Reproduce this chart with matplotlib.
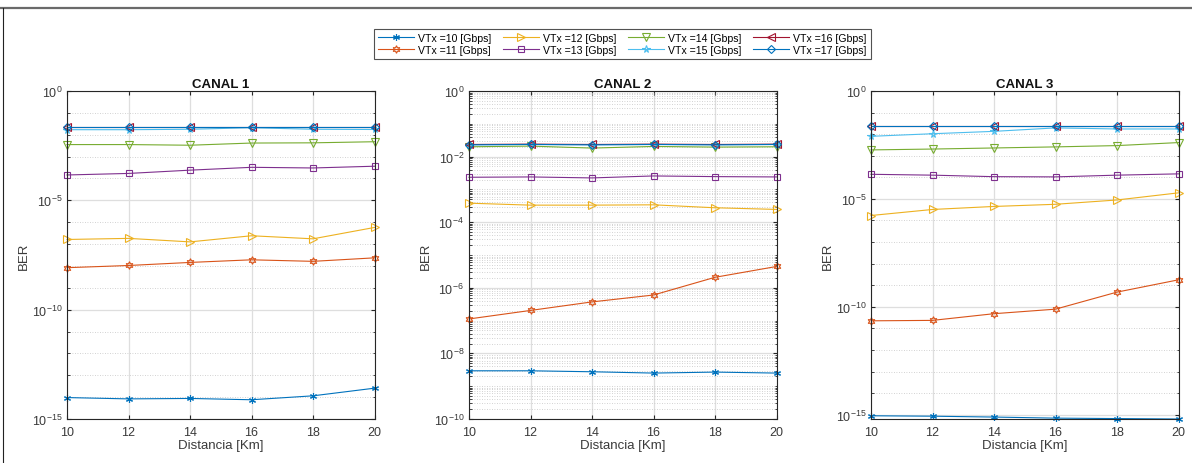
import numpy as np
import matplotlib.pyplot as plt
from matplotlib.ticker import NullFormatter, FixedLocator
from matplotlib.lines import Line2D

plt.rcParams['font.family'] = ['Liberation Sans', 'DejaVu Sans']
plt.rcParams['mathtext.fontset'] = 'custom'
plt.rcParams['mathtext.rm'] = 'Liberation Sans'

# --- data (log10 of BER) ---
distancia = [10, 12, 14, 16, 18, 20]
vtx_labels = ['VTx =%d [Gbps]' % v for v in range(10, 18)]

canal1 = {
    10: [-14.02, -14.08, -14.06, -14.12, -13.94, -13.59],
    11: [-8.08, -7.98, -7.84, -7.72, -7.79, -7.63],
    12: [-6.79, -6.74, -6.90, -6.62, -6.76, -6.24],
    13: [-3.84, -3.77, -3.62, -3.49, -3.52, -3.44],
    14: [-2.45, -2.45, -2.48, -2.38, -2.37, -2.32],
    15: [-1.77, -1.77, -1.75, -1.68, -1.75, -1.76],
    16: [-1.63, -1.63, -1.63, -1.63, -1.63, -1.63],
    17: [-1.63, -1.63, -1.63, -1.63, -1.63, -1.63],
}
canal2 = {
    10: [-8.53, -8.53, -8.56, -8.60, -8.57, -8.60],
    11: [-6.95, -6.69, -6.43, -6.22, -5.68, -5.35],
    12: [-3.42, -3.48, -3.48, -3.47, -3.56, -3.61],
    13: [-2.63, -2.62, -2.65, -2.59, -2.61, -2.62],
    14: [-1.70, -1.68, -1.74, -1.69, -1.71, -1.70],
    15: [-1.64, -1.63, -1.64, -1.63, -1.64, -1.63],
    16: [-1.63, -1.62, -1.63, -1.62, -1.63, -1.62],
    17: [-1.64, -1.63, -1.64, -1.63, -1.64, -1.63],
}
canal3 = {
    10: [-15.05, -15.07, -15.11, -15.16, -15.18, -15.20],
    11: [-10.65, -10.63, -10.32, -10.11, -9.32, -8.75],
    12: [-5.77, -5.49, -5.35, -5.25, -5.05, -4.72],
    13: [-3.86, -3.90, -3.97, -3.98, -3.90, -3.84],
    14: [-2.73, -2.69, -2.64, -2.59, -2.53, -2.39],
    15: [-2.10, -1.98, -1.87, -1.71, -1.76, -1.76],
    16: [-1.63, -1.63, -1.63, -1.63, -1.63, -1.63],
    17: [-1.63, -1.63, -1.63, -1.63, -1.63, -1.63],
}
canales = [canal1, canal2, canal3]
titulos = ['CANAL 1', 'CANAL 2', 'CANAL 3']
ylims = [(-15, 0), (-10, 0), (-15.2, 0)]
major_step = [5, 2, 5]

colors = {10: '#0072BD', 11: '#D95319', 12: '#EDB120', 13: '#7E2F8E',
          14: '#77AC30', 15: '#4DBEEE', 16: '#A2142F', 17: '#0072BD'}
markers = {10: (6, 2, 0), 11: (6, 1, 0), 12: '>', 13: 's',
           14: 'v', 15: '*', 16: '<', 17: 'D'}
msizes = {10: 5, 11: 5.5, 12: 5.5, 13: 4.2, 14: 5.5, 15: 5.5, 16: 5.5, 17: 4.2}

fig = plt.figure(figsize=(11.92, 4.64), dpi=100)
lefts = [67 / 1192, 469 / 1192, 871 / 1192]
bottom = 1 - 420 / 464
height = (420 - 92) / 464
width = 307.5 / 1192

# frame lines like the original screenshot
fig.add_artist(Line2D([0, 1], [1 - 8.5 / 464] * 2, color='#6a6a6a', lw=1.6))
fig.add_artist(Line2D([3 / 1192] * 2, [0, 1 - 9 / 464], color='#222222', lw=0.8))

handles = []
for i, canal in enumerate(canales):
    ax = fig.add_axes([lefts[i], bottom, width, height])
    for v in range(10, 18):
        h, = ax.plot(distancia, 10.0 ** np.array(canal[v]), color=colors[v],
                     marker=markers[v], markersize=msizes[v], markerfacecolor='none',
                     markeredgewidth=0.8, linewidth=0.8, label=vtx_labels[v - 10],
                     clip_on=False)
        if i == 0:
            handles.append(h)
    ax.set_yscale('log')
    lo, hi = ylims[i]
    ax.set_ylim(10.0 ** lo, 10.0 ** hi)
    ax.set_xlim(10, 20)
    ax.set_xticks(distancia)
    step = major_step[i]
    majors = [10.0 ** k for k in range(0, int(np.floor(lo)) - 1, -step)]
    ax.yaxis.set_major_locator(FixedLocator(majors))
    if step == 5:
        minors = [10.0 ** k for k in range(0, -16, -1) if k % 5 != 0]
    else:
        minors = []
        for k in range(-10, 1):
            for s in range(1, 10):
                val = s * 10.0 ** k
                if s == 1 and k % 2 == 0:
                    continue
                if val <= 1:
                    minors.append(val)
    ax.yaxis.set_minor_locator(FixedLocator(minors))
    ax.yaxis.set_minor_formatter(NullFormatter())
    ax.grid(True, which='major', color='#dedede', linewidth=0.9, linestyle='-')
    ax.grid(True, which='minor', axis='y', color='#c4c4c4', linewidth=0.6, linestyle=(0, (1, 2)))
    ax.set_axisbelow(True)
    ax.tick_params(which='both', direction='in', top=True, right=True,
                   labelsize=9, labelcolor='#3a3a3a', color='#262626', length=3)
    ax.tick_params(axis='x', pad=5)
    ax.tick_params(which='minor', length=1.8)
    for s in ax.spines.values():
        s.set_color('#262626')
        s.set_linewidth(0.8)
    ax.set_title(titulos[i], fontsize=9.5, fontweight='bold', color='#111111', pad=3)
    ax.set_xlabel('Distancia [Km]', fontsize=9.5, color='#3a3a3a', labelpad=1)
    ax.set_ylabel('BER', fontsize=9.5, color='#3a3a3a', labelpad=1)

leg = fig.legend(handles=handles, loc='center', ncol=4, bbox_to_anchor=(622.5 / 1192, 1 - 45 / 464),
                 fontsize=7.6, frameon=True, fancybox=False, handlelength=3.4,
                 columnspacing=1.1, handletextpad=0.4, labelspacing=0.2,
                 borderpad=0.35, edgecolor='#262626')
leg.get_frame().set_linewidth(0.8)

fig.savefig('out.png', dpi=100)
